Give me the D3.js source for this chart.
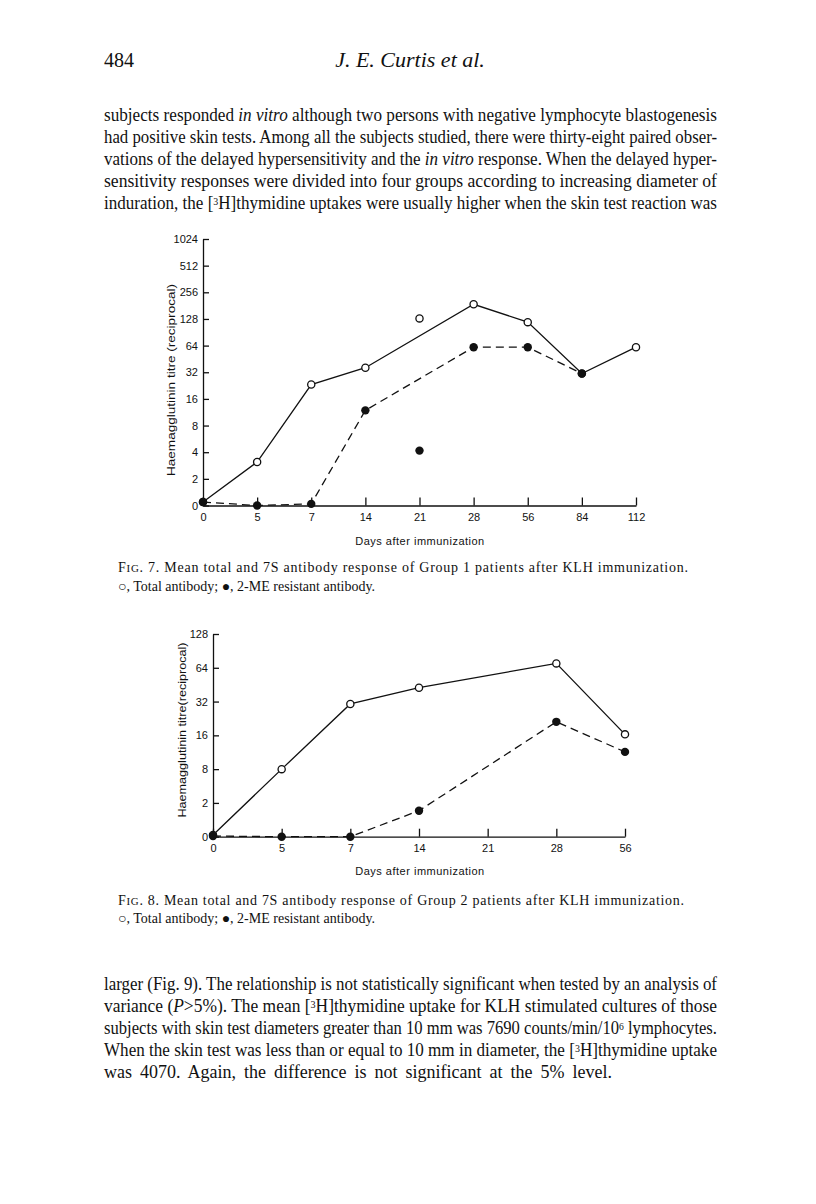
<!DOCTYPE html>
<html>
<head>
<meta charset="utf-8">
<script src="https://cdn.jsdelivr.net/npm/d3@7"></script>
<style>
  body { margin: 0; background: #fff; }
  svg { display: block; }
</style>
</head>
<body>
<div id="page"></div>
<script>
// ---- data (values are in tick steps: each step doubles the titre) ----
var days1 = ["0", "5", "7", "14", "21", "28", "56", "84", "112"];
var yTicks1 = ["0", "2", "4", "8", "16", "32", "64", "128", "256", "512", "1024"];
var total1 = [0.13, 1.63, 4.54, 5.17, null, 7.55, 6.88, 4.95, 5.94];
var resist1 = [0.13, 0.0, 0.06, 3.57, null, 5.94, 5.94, 4.95, null];
var total1Extra = [{day: "21", v: 7.02}];
var resist1Extra = [{day: "21", v: 2.06}];

var days2 = ["0", "5", "7", "14", "21", "28", "56"];
var yTicks2 = ["0", "2", "8", "16", "32", "64", "128"];
var total2 = [0.05, 2.0, 3.93, 4.41, null, 5.13, 3.03];
var resist2 = [0.02, 0.0, 0.0, 0.77, null, 3.40, 2.51];

var W = 816, H = 1204;
var serif = "'Liberation Serif', 'Times New Roman', serif";
var sans = "'Liberation Sans', Arial, sans-serif";

var svg = d3.select("#page").append("svg")
    .attr("width", W)
    .attr("height", H);
svg.append("rect").attr("width", W).attr("height", H).attr("fill", "#fff");

// helper: one line of text made of [string, style] parts
function textLine(x, y, parts, size, width, squeeze) {
  var t = svg.append("text")
      .attr("x", x).attr("y", y)
      .attr("font-family", serif)
      .attr("font-size", size)
      .attr("fill", "#111");
  parts.forEach(function(p) {
    var s = t.append("tspan").text(p[0]);
    if (p[1] == "i") s.attr("font-style", "italic");
    if (p[1] == "sup") s.attr("font-size", size * 0.58).attr("baseline-shift", "4px");
    if (p[1] == "sc") s.attr("font-size", size * 0.78);
  });
  if (width) t.attr("textLength", width).attr("lengthAdjust", squeeze ? "spacingAndGlyphs" : "spacing");
  return t;
}

// header
textLine(104, 67, [["484"]], 20);
textLine(410, 67, [["J. E. Curtis et al.", "i"]], 22).attr("text-anchor", "middle");

// paragraph above the figures
var bodyW = 613, bodySize = 18;
textLine(104, 121, [["subjects responded "], ["in vitro", "i"], [" although two persons with negative lymphocyte blastogenesis"]], bodySize, bodyW, true);
textLine(104, 143, [["had positive skin tests. Among all the subjects studied, there were thirty-eight paired obser-"]], bodySize, bodyW, true);
textLine(104, 165, [["vations of the delayed hypersensitivity and the "], ["in vitro", "i"], [" response. When the delayed hyper-"]], bodySize, bodyW, true);
textLine(104, 187, [["sensitivity responses were divided into four groups according to increasing diameter of"]], bodySize, bodyW, true);
textLine(104, 209, [["induration, the ["], ["3", "sup"], ["H]thymidine uptakes were usually higher when the skin test reaction was"]], bodySize, bodyW, true);

// draws one figure panel
function drawChart(o) {
  var x = d3.scalePoint().domain(o.days).range([o.x0, o.x1]);
  var y = d3.scaleLinear().domain([0, o.ticks.length - 1]).range([o.yBase, o.yTop]);
  var g = svg.append("g");

  var yAxis = g.append("g")
      .attr("transform", "translate(" + o.x0 + ",0)")
      .call(d3.axisLeft(y)
        .tickValues(d3.range(o.ticks.length))
        .tickFormat(function(i) { return o.ticks[i]; })
        .tickSizeInner(-6).tickSizeOuter(0).tickPadding(5));

  var xAxis = g.append("g")
      .attr("transform", "translate(0," + o.yBase + ")")
      .call(d3.axisBottom(x).tickSizeInner(-8).tickSizeOuter(0).tickPadding(8));

  [yAxis, xAxis].forEach(function(a) {
    a.attr("font-family", sans).attr("font-size", 11);
    a.selectAll("path, line").attr("stroke", "#111").attr("stroke-width", 1.3);
    a.selectAll("text").attr("fill", "#111");
  });

  // y label
  g.append("text")
    .attr("transform", "translate(" + o.labelX + "," + o.labelY + ") rotate(-90)")
    .attr("text-anchor", "middle")
    .attr("font-family", sans)
    .attr("font-size", 11)
    .attr("textLength", o.labelLen)
    .attr("lengthAdjust", "spacingAndGlyphs")
    .attr("fill", "#111")
    .text(o.ylabel);

  // x label
  g.append("text")
    .attr("x", 420).attr("y", o.xlabelY)
    .attr("text-anchor", "middle")
    .attr("font-family", sans)
    .attr("font-size", 11)
    .attr("letter-spacing", 0.5)
    .attr("fill", "#111")
    .text("Days after immunization");

  var line = d3.line()
      .defined(function(d) { return d.v != null; })
      .x(function(d) { return x(d.day); })
      .y(function(d) { return y(d.v); });

  var tot = o.days.map(function(d, i) { return {day: d, v: o.total[i]}; });
  var res = o.days.map(function(d, i) { return {day: d, v: o.resist[i]}; });

  g.append("path").datum(tot.filter(function(d) { return d.v != null; }))
    .attr("d", line).attr("fill", "none").attr("stroke", "#111").attr("stroke-width", 1.3);
  g.append("path").datum(res.filter(function(d) { return d.v != null; }))
    .attr("d", line).attr("fill", "none").attr("stroke", "#111").attr("stroke-width", 1.3)
    .attr("stroke-dasharray", "8,5");

  var openPts = tot.filter(function(d) { return d.v != null; }).concat(o.totalExtra || []);
  var fullPts = res.filter(function(d) { return d.v != null; }).concat(o.resistExtra || []);

  g.selectAll("circle.open").data(openPts).enter().append("circle")
    .attr("class", "open")
    .attr("cx", function(d) { return x(d.day); })
    .attr("cy", function(d) { return y(d.v); })
    .attr("r", 3.6)
    .attr("fill", "#fff").attr("stroke", "#111").attr("stroke-width", 1.3);

  g.selectAll("circle.full").data(fullPts).enter().append("circle")
    .attr("class", "full")
    .attr("cx", function(d) { return x(d.day); })
    .attr("cy", function(d) { return y(d.v); })
    .attr("r", 4.2)
    .attr("fill", "#111");
}

drawChart({
  days: days1, ticks: yTicks1, total: total1, resist: resist1,
  totalExtra: total1Extra, resistExtra: resist1Extra,
  x0: 203, x1: 636, yBase: 505.5, yTop: 239,
  labelX: 175, labelY: 380, labelLen: 192, ylabel: "Haemagglutinin titre (reciprocal)",
  xlabelY: 545
});

drawChart({
  days: days2, ticks: yTicks2, total: total2, resist: resist2,
  x0: 213, x1: 625, yBase: 836.7, yTop: 634,
  labelX: 186, labelY: 730, labelLen: 175, ylabel: "Haemagglutinin titre(reciprocal)",
  xlabelY: 875
});

// captions
var capSize = 14;
textLine(118, 572, [["F"], ["IG", "sc"], [". 7. Mean total and 7S antibody response of Group 1 patients after KLH immunization."]], capSize, 570);
textLine(118, 591, [["\u25CB, Total antibody; \u25CF, 2-ME resistant antibody."]], capSize);
textLine(118, 905, [["F"], ["IG", "sc"], [". 8. Mean total and 7S antibody response of Group 2 patients after KLH immunization."]], capSize, 566);
textLine(118, 923, [["\u25CB, Total antibody; \u25CF, 2-ME resistant antibody."]], capSize);

// paragraph below the figures
textLine(104, 990, [["larger (Fig. 9). The relationship is not statistically significant when tested by an analysis of"]], bodySize, bodyW, true);
textLine(104, 1012, [["variance ("], ["P", "i"], [">5%). The mean ["], ["3", "sup"], ["H]thymidine uptake for KLH stimulated cultures of those"]], bodySize, bodyW, true);
textLine(104, 1034, [["subjects with skin test diameters greater than 10 mm was 7690 counts/min/10"], ["6", "sup"], [" lymphocytes."]], bodySize, bodyW, true);
textLine(104, 1056, [["When the skin test was less than or equal to 10 mm in diameter, the ["], ["3", "sup"], ["H]thymidine uptake"]], bodySize, bodyW, true);
textLine(104, 1078, [["was 4070. Again, the difference is not significant at the 5% level."]], bodySize)
  .attr("word-spacing", 3.5);
</script>
</body>
</html>
